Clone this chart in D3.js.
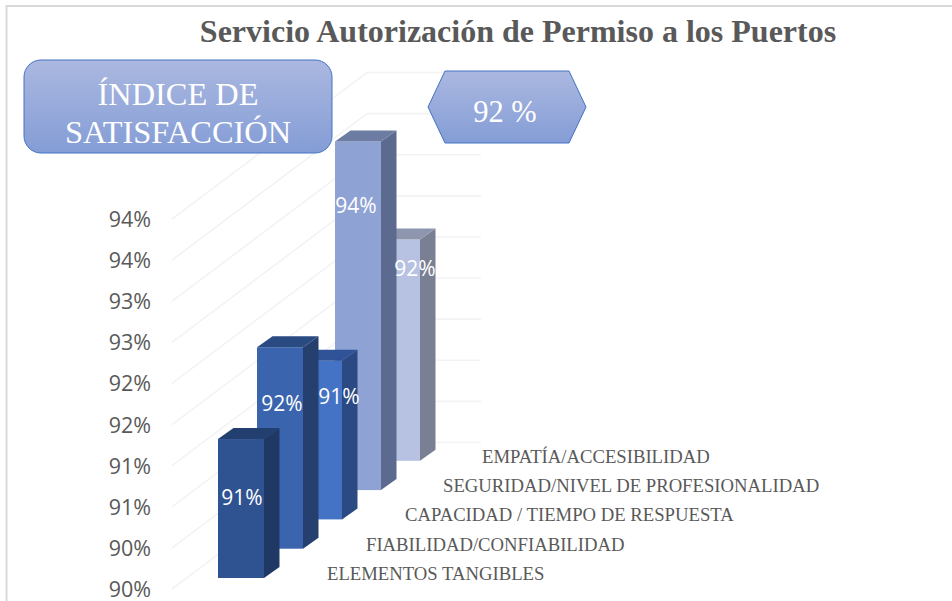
<!DOCTYPE html>
<html><head><meta charset="utf-8">
<script src="https://cdn.jsdelivr.net/npm/d3@7"></script>
<style>html,body{margin:0;padding:0;background:#fff}svg{display:block}</style>
</head><body><svg id="c" width="952" height="601"></svg>
<script>
const titleText = "Servicio Autorización de Permiso a los Puertos";
const categories = ["ELEMENTOS TANGIBLES","FIABILIDAD/CONFIABILIDAD","CAPACIDAD / TIEMPO DE RESPUESTA","SEGURIDAD/NIVEL DE PROFESIONALIDAD","EMPATÍA/ACCESIBILIDAD"];
const values = [91.69,92.45,91.93,94.24,92.69];
const valueLabels = ["91%","92%","91%","94%","92%"];
const axisValues = [90,90.5,91,91.5,92,92.5,93,93.5,94,94.5];
const axisLabels = ["90%","90%","91%","91%","92%","92%","93%","93%","94%","94%"];
const frontColors = ["#2f5291","#3a64ae","#4472c4","#8fa2d4","#b7c2e2"];
const sideColors = ["#1f3864","#25406f","#2b4a83","#5b6a8e","#7a8094"];
const topColors = ["#223f70","#2a4a82","#2f5396","#6c7ca3","#8d96ad"];
const badgeLine1 = "ÍNDICE DE", badgeLine2 = "SATISFACCIÓN", badgeValue = "92 %";

const svg = d3.select("#c");
const y = d3.scaleLinear().domain([90,94.5]).range([589,219]);
const depth = d3.scaleLinear().domain([0,5]).range([0,1]);
const depthX = d => depth(d)*195, depthY = d => depth(d)*146.5;
const barX0 = 218, barBase = 578, barW = 46, sideDX = 15.5, sideDY = 11;
const wallX0 = 172;

const defs = svg.append("defs");
const g = defs.append("linearGradient").attr("id","fill").attr("x1",0).attr("y1",0).attr("x2",0).attr("y2",1);
g.append("stop").attr("offset","0%").attr("stop-color","#abb8e0");
g.append("stop").attr("offset","100%").attr("stop-color","#849dd6");

// chart frame (top and left edges only are visible)
svg.append("path").attr("d","M6.5,601V6H952").attr("fill","none").attr("stroke","#d9d9d9").attr("stroke-width",2);

// gridlines
const grid = svg.append("g").attr("fill","none").attr("stroke","#f3f3f3").attr("stroke-width",1.6);
axisValues.forEach(v=>{
  const y0=y(v);
  grid.append("path").attr("d",`M${wallX0},${y0}L${wallX0+depthX(5)},${y0-depthY(5)}H481`);
});

// axis labels
svg.append("g").selectAll("text").data(axisValues).join("text")
  .attr("x",151).attr("y",v=>y(v)+8).attr("text-anchor","end")
  .attr("font-family","'Open Sans',sans-serif").attr("font-size",21.5).attr("fill","#595959")
  .text((v,i)=>axisLabels[i]);

// bars, drawn back to front
const order = d3.range(values.length).reverse();
const bars = svg.append("g");
order.forEach(i=>{
  const x = barX0+depthX(i), base = barBase-depthY(i), h = y(90)-y(values[i]), top = base-h;
  const b = bars.append("g");
  b.append("rect").attr("x",x).attr("y",top).attr("width",barW).attr("height",h).attr("fill",frontColors[i]);
  b.append("path").attr("d",`M${x+barW},${top}l${sideDX},${-sideDY}V${base-sideDY}l${-sideDX},${sideDY}Z`).attr("fill",sideColors[i]);
  b.append("path").attr("d",`M${x},${top}l${sideDX},${-sideDY}h${barW}l${-sideDX},${sideDY}Z`).attr("fill",topColors[i]);
});

// value labels, placed by hand to sit where the reference puts them
const labelCentreX = [242,282,339,356,415], labelCentreY = [497,403,396,205,268];
svg.append("g").selectAll("text").data(values).join("text")
  .attr("x",(v,i)=>labelCentreX[i])
  .attr("y",(v,i)=>labelCentreY[i]+7.5).attr("text-anchor","middle")
  .attr("font-family","'Open Sans',sans-serif").attr("font-size",21).attr("fill","#fff")
  .text((v,i)=>valueLabels[i]);

// category labels
svg.append("g").selectAll("text").data(categories).join("text")
  .attr("x",(d,i)=>327+depthX(i)-(i>2?1:0)).attr("y",(d,i)=>580-depthY(i))
  .attr("font-family","'Liberation Serif',serif").attr("font-size",18.7).attr("fill","#595959")
  .text(d=>d);

// title
svg.append("text").attr("x",518).attr("y",42).attr("text-anchor","middle")
  .attr("font-family","'Liberation Serif',serif").attr("font-weight","bold").attr("font-size",32).attr("fill","#595959").text(titleText);

// badges
svg.append("rect").attr("x",24).attr("y",60).attr("width",308).attr("height",93).attr("rx",17)
  .attr("fill","url(#fill)").attr("stroke","#4472c4").attr("stroke-width",1);
const bt = svg.append("g").attr("font-family","'Liberation Serif',serif").attr("fill","#fff").attr("text-anchor","middle");
bt.append("text").attr("x",178).attr("y",105).attr("font-size",32.4).text(badgeLine1);
bt.append("text").attr("x",178).attr("y",143).attr("font-size",32.4).text(badgeLine2);
svg.append("path").attr("d","M428,107L445,71H569L586,107L569,143H445Z").attr("fill","url(#fill)").attr("stroke","#4472c4");
svg.append("text").attr("x",505).attr("y",122).attr("text-anchor","middle").attr("font-family","'Liberation Serif',serif").attr("fill","#fff").attr("font-size",30.5).text(badgeValue);
</script></body></html>
